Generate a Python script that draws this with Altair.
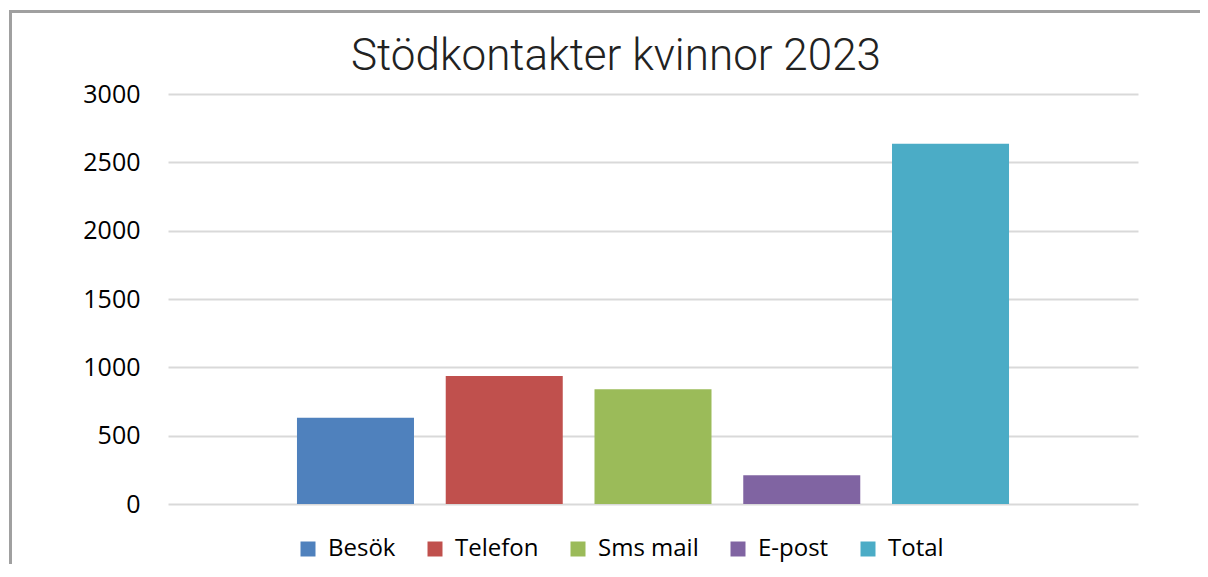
import altair as alt
import pandas as pd

categories = ["Besök", "Telefon", "Sms mail", "E-post", "Total"]
values = [632, 936, 840, 211, 2636]
colors = ["#4F81BD", "#C0504D", "#9BBB59", "#8064A2", "#4BACC6"]
y_ticks = [0, 500, 1000, 1500, 2000, 2500, 3000]

df = pd.DataFrame({"kategori": categories, "antal": values})

bars = alt.Chart(df).mark_bar(stroke=None).encode(
    x=alt.X("kategori:N", sort=categories, axis=None,
            scale=alt.Scale(paddingInner=0.2134, paddingOuter=0.867)),
    y=alt.Y("antal:Q",
            scale=alt.Scale(domain=[0, 3000], nice=False),
            axis=alt.Axis(values=y_ticks, format="d", title=None, ticks=False, domain=False,
                          labelFont="Open Sans", labelFontSize=25, labelColor="#000000",
                          labelPadding=28, gridColor="#d9d9d9", gridWidth=2)),
    color=alt.Color("kategori:N", sort=categories,
                    scale=alt.Scale(domain=categories, range=colors),
                    legend=alt.Legend(title=None, orient="none", direction="horizontal",
                                      legendX=128, legendY=443,
                                      symbolType="square", symbolSize=225,
                                      symbolStrokeWidth=0, symbolOpacity=1,
                                      labelFont="Open Sans", labelFontSize=24,
                                      labelColor="#000000", labelOffset=8,
                                      columnPadding=27, labelLimit=300)),
)

frame = alt.Chart(pd.DataFrame({"f": [1]})).mark_rect(
    fill=None, stroke="#a0a0a0", strokeWidth=3, clip=False
).encode(
    x=alt.value(-157.5), x2=alt.value(1082),
    y=alt.value(-82.5), y2=alt.value(600),
)

chart = alt.layer(bars, frame).properties(
    width=970, height=410,
    padding={"left": 160, "top": 86, "right": 62, "bottom": 60},
    autosize=alt.AutoSizeParams(type="none"),
    title=alt.TitleParams("Stödkontakter kvinnor 2023", font="Roboto", fontWeight=300,
                          fontSize=44, color="#222222", anchor="middle",
                          baseline="alphabetic", offset=-104, dx=-37),
).configure_view(stroke=None)

chart.save("out.html", embed_options={"renderer": "svg", "actions": False})
